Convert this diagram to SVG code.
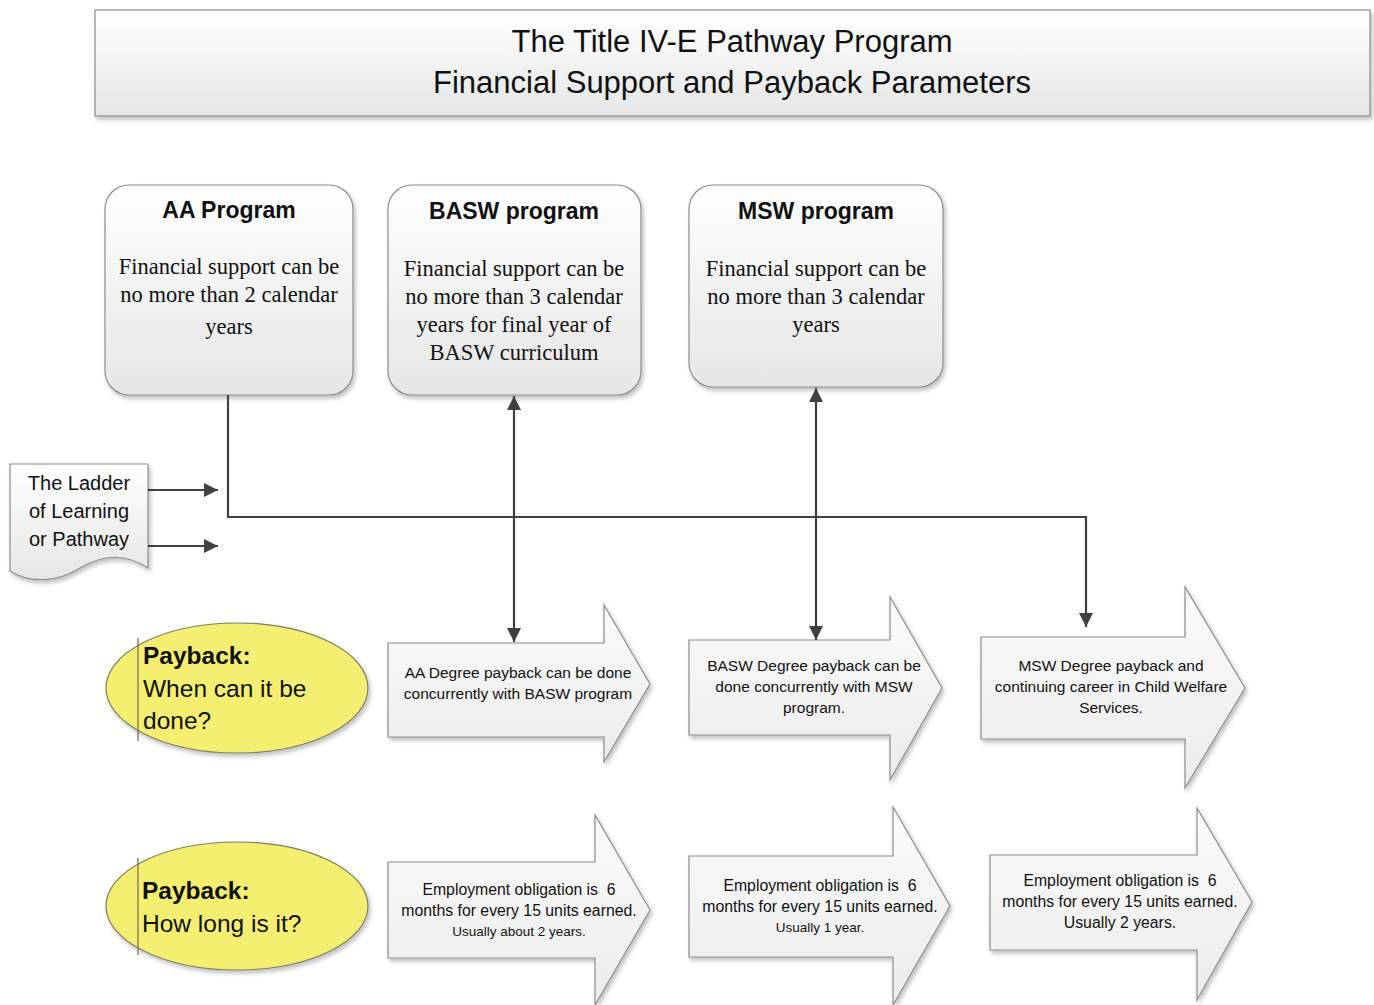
<svg xmlns="http://www.w3.org/2000/svg" width="1374" height="1005" viewBox="0 0 1374 1005">
<defs>
  <linearGradient id="gBox" x1="0" y1="0" x2="0" y2="1">
    <stop offset="0" stop-color="#ffffff"/>
    <stop offset="1" stop-color="#e6e6e6"/>
  </linearGradient>
  <linearGradient id="gArrow" x1="0" y1="0" x2="0" y2="1">
    <stop offset="0" stop-color="#fbfbfb"/>
    <stop offset="1" stop-color="#ececec"/>
  </linearGradient>
  <filter id="sh" x="-10%" y="-10%" width="125%" height="125%">
    <feDropShadow dx="2" dy="3" stdDeviation="2" flood-color="#000" flood-opacity="0.25"/>
  </filter>
  <marker id="ah" viewBox="0 0 10 10" refX="10" refY="5" markerWidth="6.5" markerHeight="6.5" orient="auto-start-reverse" markerUnits="strokeWidth">
    <path d="M0,0 L10,5 L0,10 Z" fill="#404040"/>
  </marker>
  <style>
    .box { fill: url(#gBox); stroke: #8c8c8c; stroke-width: 1.2; filter: url(#sh); }
    .arr { fill: url(#gArrow); stroke: #8c8c8c; stroke-width: 1.2; filter: url(#sh); }
    .ell { fill: #f4ef70; stroke: #7f7f5a; stroke-width: 1.2; filter: url(#sh); }
    .conn { fill: none; stroke: #404040; stroke-width: 2.2; }
    .sans { font-family: "Liberation Sans", Arial, sans-serif; fill: #111; }
    .serif { font-family: "Liberation Serif", "Times New Roman", serif; fill: #111; font-size: 22.5px; }
    .title { font-size: 31px; text-anchor: middle; }
    .hd { font-size: 23px; font-weight: bold; text-anchor: middle; }
    .mid { text-anchor: middle; }
    .at { font-size: 15.5px; text-anchor: middle; }
    .at2 { font-size: 15.8px; text-anchor: middle; }
    .sm { font-size: 13.5px; text-anchor: middle; }
    .el { font-size: 24.5px; }
  </style>
</defs>
<rect width="1374" height="1005" fill="#ffffff"/>

<g id="title">
  <rect x="95" y="10" width="1275" height="106" class="box"/>
  <text class="sans title" x="732" y="52">The Title IV-E Pathway Program</text>
  <text class="sans title" x="732" y="93">Financial Support and Payback Parameters</text>
</g>

<g id="aa-program">
  <rect x="105" y="185" width="248" height="210" rx="24" class="box"/>
  <text class="sans hd" x="229" y="218">AA Program</text>
  <text class="serif mid" x="229" y="274">Financial support can be</text>
  <text class="serif mid" x="229" y="302">no more than 2 calendar</text>
  <text class="serif mid" x="229" y="334">years</text>
</g>

<g id="basw-program">
  <rect x="388" y="185" width="253" height="210" rx="24" class="box"/>
  <text class="sans hd" x="514" y="219">BASW program</text>
  <text class="serif mid" x="514" y="276">Financial support can be</text>
  <text class="serif mid" x="514" y="304">no more than 3 calendar</text>
  <text class="serif mid" x="514" y="332">years for final year of</text>
  <text class="serif mid" x="514" y="360">BASW curriculum</text>
</g>

<g id="msw-program">
  <rect x="689" y="185" width="254" height="202" rx="24" class="box"/>
  <text class="sans hd" x="816" y="219">MSW program</text>
  <text class="serif mid" x="816" y="276">Financial support can be</text>
  <text class="serif mid" x="816" y="304">no more than 3 calendar</text>
  <text class="serif mid" x="816" y="332">years</text>
</g>

<g id="ladder">
  <path d="M10,464 H148 V568 C124,552 100,556 80,568 C58,582 30,584 10,571 Z" class="box"/>
  <text class="sans mid" style="font-size:20px" x="79" y="490">The Ladder</text>
  <text class="sans mid" style="font-size:20px" x="79" y="518">of Learning</text>
  <text class="sans mid" style="font-size:20px" x="79" y="546">or Pathway</text>
</g>

<g id="payback-when">
  <ellipse cx="237" cy="688" rx="131" ry="65" class="ell"/>
  <line x1="138" y1="638" x2="138" y2="741" stroke="#6b6b4a" stroke-width="1.2"/>
  <text class="sans el" x="143" y="664" font-weight="bold">Payback:</text>
  <text class="sans el" x="143" y="697">When can it be</text>
  <text class="sans el" x="143" y="729">done?</text>
</g>

<g id="payback-how-long">
  <ellipse cx="237" cy="906" rx="131" ry="64" class="ell"/>
  <line x1="138" y1="858" x2="138" y2="955" stroke="#6b6b4a" stroke-width="1.2"/>
  <text class="sans el" x="142" y="899" font-weight="bold">Payback:</text>
  <text class="sans el" x="142" y="932">How long is it?</text>
</g>

<g id="arrow-aa-when">
  <path d="M388,643 H604 V605 L650,684 L604,762 V737 H388 Z" class="arr"/>
  <text class="sans at" x="518" y="678">AA Degree payback can be done</text>
  <text class="sans at" x="518" y="699">concurrently with BASW program</text>
</g>

<g id="arrow-basw-when">
  <path d="M689,640 H890 V597 L942,688 L890,780 V735 H689 Z" class="arr"/>
  <text class="sans at" x="814" y="671">BASW Degree payback can be</text>
  <text class="sans at" x="814" y="692">done concurrently with MSW</text>
  <text class="sans at" x="814" y="713">program.</text>
</g>

<g id="arrow-msw-when">
  <path d="M981,637 H1185 V587 L1245,688 L1185,788 V739 H981 Z" class="arr"/>
  <text class="sans at" x="1111" y="671">MSW Degree payback and</text>
  <text class="sans at" x="1111" y="692">continuing career in Child Welfare</text>
  <text class="sans at" x="1111" y="713">Services.</text>
</g>

<g id="arrow-aa-long">
  <path d="M388,862 H595 V815 L650,910 L595,1005 V958 H388 Z" class="arr"/>
  <text class="sans at2" x="519" y="895" xml:space="preserve">Employment obligation is  6</text>
  <text class="sans at2" x="519" y="916">months for every 15 units earned.</text>
  <text class="sans sm" x="519" y="936">Usually about 2 years.</text>
</g>

<g id="arrow-basw-long">
  <path d="M689,856 H893 V807 L950,906 L893,1005 V957 H689 Z" class="arr"/>
  <text class="sans at2" x="820" y="891" xml:space="preserve">Employment obligation is  6</text>
  <text class="sans at2" x="820" y="912">months for every 15 units earned.</text>
  <text class="sans sm" x="820" y="932">Usually 1 year.</text>
</g>

<g id="arrow-msw-long">
  <path d="M990,855 H1197 V808 L1252,902 L1197,1000 V950 H990 Z" class="arr"/>
  <text class="sans at2" x="1120" y="886" xml:space="preserve">Employment obligation is  6</text>
  <text class="sans at2" x="1120" y="907">months for every 15 units earned.</text>
  <text class="sans at2" x="1120" y="928">Usually 2 years.</text>
</g>

<g id="connectors">
  <path class="conn" d="M228,395 V517 H1086 V627" marker-end="url(#ah)"/>
  <path class="conn" d="M148,490 H218" marker-end="url(#ah)"/>
  <path class="conn" d="M148,546 H218" marker-end="url(#ah)"/>
  <path class="conn" d="M514,396 V642" marker-start="url(#ah)" marker-end="url(#ah)"/>
  <path class="conn" d="M816,388 V640" marker-start="url(#ah)" marker-end="url(#ah)"/>
</g>
</svg>
